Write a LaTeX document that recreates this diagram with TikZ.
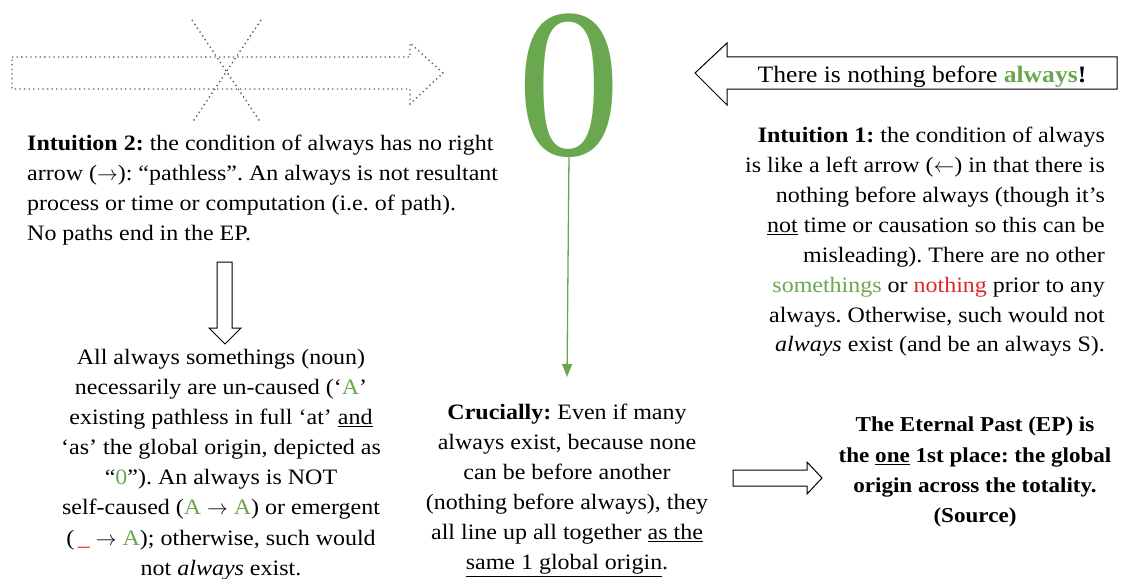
\documentclass[tikz,border=0pt]{standalone}
\usepackage{fontspec}
\setmainfont{Liberation Serif}[FakeStretch=1.09]
\usetikzlibrary{arrows.meta}
\definecolor{gr}{HTML}{6AA84F}
\definecolor{rd}{RGB}{222,38,38}
\newcommand{\gtxt}[1]{\textcolor{gr}{#1}}
\newcommand{\rtxt}[1]{\textcolor{rd}{#1}}
\frenchspacing
\tikzset{
  body/.style={font=\fontsize{22}{30.3}\selectfont, inner sep=0pt},
  outlinearrow/.style={draw=black, line width=1pt, line join=miter, fill=white},
  dotline/.style={draw=black!65, line width=1.4pt, dash pattern=on 1.3pt off 3.3pt},
  garrow/.style={draw=gr, line width=1.3pt, -{Triangle[width=10pt,length=13pt]}}
}
\begin{document}
\begin{tikzpicture}[x=1pt,y=-1pt]
\useasboundingbox (0,0) rectangle (1134,578);
% dotted right arrow (crossed out)
\draw[dotline] (12,57) -- (410,57) -- (410,43) -- (443,73) -- (410,104) -- (410,89) -- (12,89) -- cycle;
\draw[dotline] (192,20) -- (261,123);
\draw[dotline] (261,20) -- (192,123);
% big zero
\node[inner sep=0pt, anchor=base, text=gr] (zero) at (569,155) {\scalebox{0.89}[1]{\fontsize{213}{213}\selectfont 0}};
% left arrow
\draw[outlinearrow] (1117,57) -- (727,57) -- (727,43) -- (695,73) -- (727,105) -- (727,89) -- (1117,89) -- cycle;
\node[body, anchor=center, font=\fontsize{23.5}{28}\selectfont] (nothing) at (922,77) {There is nothing before \textbf{\gtxt{always}}\textbf{!}};
% intuition 2
\node[body, anchor=north west, align=left, font=\fontsize{22}{30}\selectfont] (int2) at (27,135) {\textbf{Intuition 2:} the condition of always has no right\\
arrow ($\rightarrow$): “pathless”. An always is not resultant\\
process or time or computation (i.e. of path).\\
No paths end in the EP.};
% down arrow
\draw[outlinearrow] (217,262) -- (232,262) -- (232,328) -- (241,328) -- (225,344) -- (209,328) -- (217,328) -- cycle;
% bottom-left
\node[body, anchor=north, align=center, font=\fontsize{22}{30.1}\selectfont] (always) at (221,349) {All always somethings (noun)\\
necessarily are un-caused (‘\gtxt{A}’\\
existing pathless in full ‘at’ \underline{and}\\
‘as’ the global origin, depicted as\\
“\gtxt{0}”). An always is NOT\\
self-caused (\gtxt{A} $\rightarrow$ \gtxt{A}) or emergent\\
(\,\rtxt{\_} $\rightarrow$ \gtxt{A}); otherwise, such would\\
not \textit{always} exist.};
% intuition 1
\node[body, anchor=north east, align=right, font=\fontsize{22}{29.9}\selectfont] (int1) at (1105,127) {\textbf{Intuition 1:} the condition of always\\
is like a left arrow ($\leftarrow$) in that there is\\
nothing before always (though it’s\\
\underline{not} time or causation so this can be\\
misleading). There are no other\\
\gtxt{somethings} or \rtxt{nothing} prior to any\\
always. Otherwise, such would not\\
\textit{always} exist (and be an always S).};
% crucially
\node[body, anchor=north, align=center, font=\fontsize{22}{30}\selectfont] (cru) at (567,404) {\textbf{Crucially:} Even if many\\
always exist, because none\\
can be before another\\
(nothing before always), they\\
all line up all together \underline{as the}\\
\underline{same 1 global origin}.};
\coordinate (gtip) at (567,377);
\draw[garrow] (zero.base) -- (gtip);
% right arrow
\draw[outlinearrow] (733,470) -- (807,470) -- (807,462) -- (822,478) -- (807,494) -- (807,486) -- (733,486) -- cycle;
% EP
\node[body, anchor=north, align=center, font=\fontsize{21.2}{30.3}\selectfont\bfseries] (ep) at (975,417) {The Eternal Past (EP) is\\
the \underline{one} 1st place: the global\\
origin across the totality.\\
(Source)};
\end{tikzpicture}
\end{document}
